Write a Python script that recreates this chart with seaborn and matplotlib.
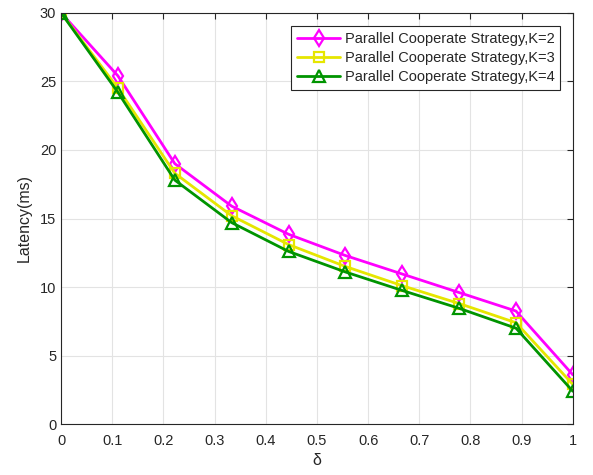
import matplotlib
matplotlib.use("Agg")
import matplotlib.pyplot as plt
import seaborn as sns
import numpy as np
import pandas as pd

# delta values (10 points from 0 to 1)
delta = [0, 1/9, 2/9, 3/9, 4/9, 5/9, 6/9, 7/9, 8/9, 1]
lat_k2 = [30, 25.4, 19.0, 15.9, 13.85, 12.3, 10.95, 9.6, 8.25, 3.6]
lat_k3 = [30, 24.5, 18.3, 15.2, 13.1, 11.5, 10.1, 8.8, 7.4, 2.9]
lat_k4 = [30, 24.2, 17.8, 14.7, 12.6, 11.1, 9.75, 8.45, 7.0, 2.4]
labels = ["Parallel Cooperate Strategy,K=2",
          "Parallel Cooperate Strategy,K=3",
          "Parallel Cooperate Strategy,K=4"]

sns.set_style("whitegrid")
plt.rcParams['font.family'] = ['Liberation Sans', 'DejaVu Sans']

fig = plt.figure(figsize=(5.93, 4.75), dpi=100)
ax = fig.add_axes([0.103, 0.107, 0.863, 0.866])

series = [(lat_k2, "#FF00FF", "d", 8), (lat_k3, "#E6E600", "s", 6.5), (lat_k4, "#009400", "^", 8)]
for (y, c, m, ms), lab in zip(series, labels):
    df = pd.DataFrame({"delta": delta, "lat": y})
    sns.lineplot(data=df, x="delta", y="lat", ax=ax, color=c, lw=2, marker=m,
                 markersize=ms, markerfacecolor="none", markeredgecolor=c,
                 markeredgewidth=1.6, label=lab)

ax.set_xlim(0, 1)
ax.set_ylim(0, 30)
ax.set_xticks(np.arange(0, 1.01, 0.1))
ax.set_xticklabels(["0", "0.1", "0.2", "0.3", "0.4", "0.5", "0.6", "0.7", "0.8", "0.9", "1"])
ax.set_yticks(range(0, 31, 5))
ax.set_xlabel("δ", fontsize=11.5, labelpad=4)
ax.set_ylabel("Latency(ms)", fontsize=11.5, labelpad=6)
ax.grid(True, color="#e3e3e3", lw=0.8)
for s in ax.spines.values():
    s.set_color("#262626")
    s.set_linewidth(0.8)
ax.tick_params(direction="in", length=4, top=True, right=True, labelsize=10.5,
               colors="#262626", width=0.8)
ax.tick_params(axis="x", pad=7)
leg = ax.legend(loc="upper right", fontsize=10.5, frameon=True, fancybox=False,
                edgecolor="#262626", framealpha=1, borderpad=0.4, handlelength=3.0,
                handletextpad=0.3, labelspacing=0.35, bbox_to_anchor=(0.99, 0.985))
leg.get_frame().set_linewidth(0.8)

fig.savefig("out.png", dpi=100)
